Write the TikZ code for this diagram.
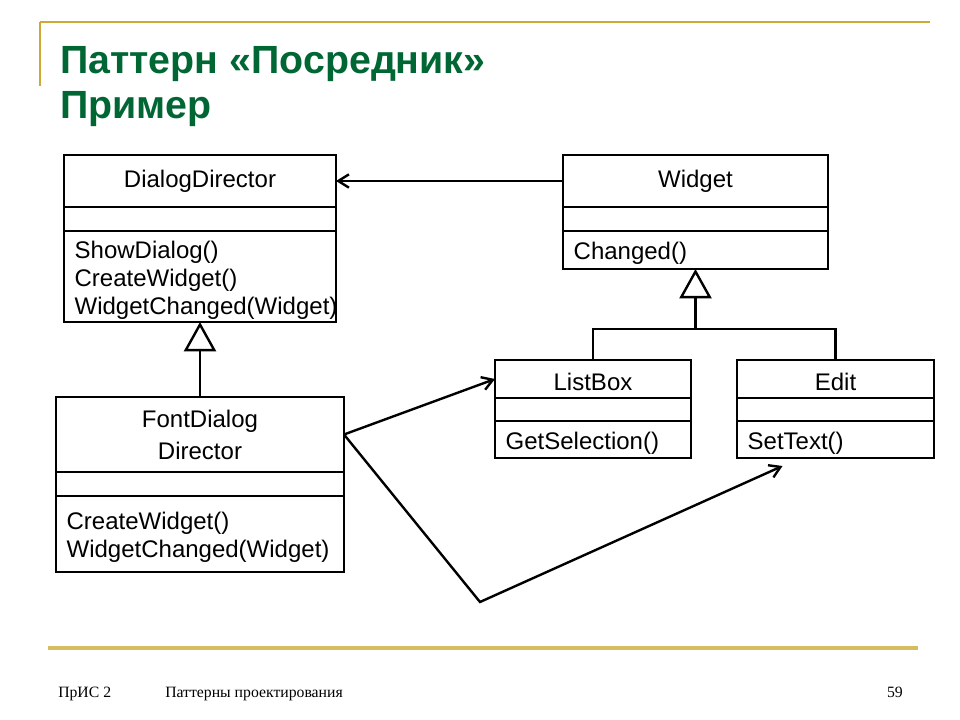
\documentclass[tikz,border=0pt]{standalone}
\usepackage{fontspec}
\setmainfont{Liberation Sans}
\newfontfamily\footfont{Liberation Serif}
\usetikzlibrary{arrows.meta, positioning, calc}
\definecolor{titlegreen}{RGB}{0,102,51}
\definecolor{rulegold}{RGB}{204,170,51}
\definecolor{footgold}{RGB}{214,190,96}
\newcommand{\umlfont}{\fontsize{18pt}{21pt}\selectfont}

\begin{document}
\begin{tikzpicture}[x=0.75pt, y=-0.75pt,
  cbox/.style={draw, line width=1.8pt, outer sep=0pt, inner sep=0pt, font=\umlfont, align=center},
  opsbox/.style={cbox, align=left, inner xsep=8pt, text height=18pt},
  assoc/.style={-{Straight Barb[length=8pt, width=10pt]}, line width=1.8pt},
  gen/.style={-{Triangle[open, length=22pt, width=24pt]}, line width=1.8pt},
  rule/.style={line width=2pt, rulegold},
  foot/.style={font=\footfont\fontsize{11.8pt}{14pt}\selectfont, inner sep=0pt}
]
\useasboundingbox (0,0) rectangle (960,720);
% slide frame
\draw[rule] (40,22) -- (930,22);
\draw[rule] (40,22) -- (40,86);
\draw[line width=3pt, footgold] (48,648) -- (918,648);
\node[anchor=base west, inner sep=0pt, text=titlegreen, font=\fontsize{29.5pt}{33pt}\selectfont\bfseries] (title) at (60,74) {Паттерн «Посредник»};
\node[anchor=base west, inner sep=0pt, text=titlegreen, font=\fontsize{29.5pt}{33pt}\selectfont\bfseries] (subtitle) at (60,119) {Пример};
\node[foot, anchor=base west] (course) at (58,697) {ПрИС 2};
\node[foot, anchor=base west] (topic) at (165,697) {Паттерны проектирования};
\node[foot, anchor=base east] (page) at (903,697) {59};
% classes
\node[cbox, minimum width=204pt, minimum height=39pt, anchor=north west] (ddname) at (64,155) {DialogDirector};
\node[cbox, minimum width=204pt, minimum height=18pt, below=0pt of ddname] (ddattr) {};
\node[opsbox, text width=188pt, minimum height=68.25pt, below=0pt of ddattr] (ddops) {ShowDialog()\\CreateWidget()\\WidgetChanged(Widget)};

\node[cbox, minimum width=198.75pt, minimum height=39pt, anchor=north west] (wname) at (563,155) {Widget};
\node[cbox, minimum width=198.75pt, minimum height=18pt, below=0pt of wname] (wattr) {};
\node[opsbox, text width=182.75pt, minimum height=28.5pt, below=0pt of wattr] (wops) {Changed()};

\node[cbox, minimum width=216pt, minimum height=56.25pt, anchor=north west, font=\fontsize{18pt}{24pt}\selectfont] (fdname) at (56,397) {FontDialog\\Director};
\node[cbox, minimum width=216pt, minimum height=18pt, below=0pt of fdname] (fdattr) {};
\node[opsbox, text width=200pt, minimum height=57pt, below=0pt of fdattr] (fdops) {CreateWidget()\\WidgetChanged(Widget)};

\node[cbox, minimum width=147pt, minimum height=28.5pt, text height=18pt, anchor=north west] (lbname) at (495,360) {ListBox};
\node[cbox, minimum width=147pt, minimum height=17.25pt, below=0pt of lbname] (lbattr) {};
\node[opsbox, text width=131pt, minimum height=27.75pt, below=0pt of lbattr] (lbops) {GetSelection()};

\node[cbox, minimum width=147.75pt, minimum height=28.5pt, text height=18pt, anchor=north west] (edname) at (737,360) {Edit};
\node[cbox, minimum width=147.75pt, minimum height=17.25pt, below=0pt of edname] (edattr) {};
\node[opsbox, text width=131.75pt, minimum height=27.75pt, below=0pt of edattr] (edops) {SetText()};
% relations
\draw[assoc] (wname.west) -- (ddname.east);
\draw[gen] (fdname.north) -- (ddops.south);
\coordinate (joint) at ($(wops.south)+(0,60)$);
\draw[line width=1.8pt] (lbname.north) |- (joint) -| (edname.north);
\draw[gen] (joint) -- (wops.south);
\coordinate (bend) at (480,602);
\coordinate (edtip) at ($(edops.south)+(-53,8)$);
\draw[assoc] (fdname.east) -- (lbname.west);
\draw[assoc] (fdname.east) -- (bend) -- (edtip);
\end{tikzpicture}
\end{document}
